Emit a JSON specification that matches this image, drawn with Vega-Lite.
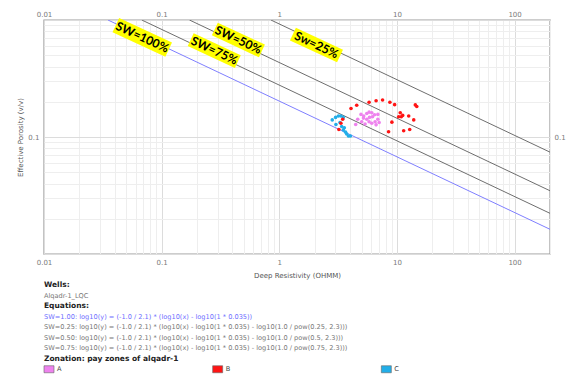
{
  "$schema": "https://vega.github.io/schema/vega-lite/v6.json",
  "background": "white",
  "padding": {"left": 16, "top": 9, "right": 0, "bottom": 0},
  "bounds": "flush",
  "spacing": 26,
  "config": {"view": {"stroke": null}, "font": "DejaVu Sans"},
  "datasets": {
    "curves": [
      {"sw": "1.00", "rd": 0.035, "phi": 1},
      {"sw": "1.00", "rd": 200, "phi": 0.01626},
      {"sw": "0.75", "rd": 0.0678, "phi": 1},
      {"sw": "0.75", "rd": 200, "phi": 0.02227},
      {"sw": "0.50", "rd": 0.1724, "phi": 1},
      {"sw": "0.50", "rd": 200, "phi": 0.03472},
      {"sw": "0.25", "rd": 0.849, "phi": 1},
      {"sw": "0.25", "rd": 200, "phi": 0.07421}
    ],
    "samples": [
      {"zone": "C", "rd": 2.82, "phi": 0.140},
      {"zone": "C", "rd": 3.01, "phi": 0.147},
      {"zone": "C", "rd": 3.18, "phi": 0.151},
      {"zone": "C", "rd": 3.34, "phi": 0.151},
      {"zone": "C", "rd": 3.50, "phi": 0.147},
      {"zone": "C", "rd": 3.03, "phi": 0.128},
      {"zone": "C", "rd": 3.28, "phi": 0.133},
      {"zone": "C", "rd": 3.39, "phi": 0.123},
      {"zone": "C", "rd": 3.57, "phi": 0.120},
      {"zone": "C", "rd": 3.50, "phi": 0.115},
      {"zone": "C", "rd": 3.66, "phi": 0.110},
      {"zone": "C", "rd": 3.74, "phi": 0.106},
      {"zone": "C", "rd": 3.87, "phi": 0.102},
      {"zone": "C", "rd": 4.02, "phi": 0.102},
      {"zone": "A", "rd": 4.95, "phi": 0.156},
      {"zone": "A", "rd": 5.22, "phi": 0.151},
      {"zone": "A", "rd": 5.54, "phi": 0.159},
      {"zone": "A", "rd": 5.80, "phi": 0.163},
      {"zone": "A", "rd": 6.11, "phi": 0.161},
      {"zone": "A", "rd": 6.45, "phi": 0.155},
      {"zone": "A", "rd": 6.88, "phi": 0.156},
      {"zone": "A", "rd": 4.64, "phi": 0.142},
      {"zone": "A", "rd": 5.19, "phi": 0.145},
      {"zone": "A", "rd": 5.54, "phi": 0.142},
      {"zone": "A", "rd": 5.84, "phi": 0.147},
      {"zone": "A", "rd": 6.20, "phi": 0.149},
      {"zone": "A", "rd": 6.88, "phi": 0.142},
      {"zone": "A", "rd": 7.06, "phi": 0.133},
      {"zone": "A", "rd": 6.65, "phi": 0.127},
      {"zone": "A", "rd": 6.11, "phi": 0.131},
      {"zone": "A", "rd": 5.36, "phi": 0.129},
      {"zone": "A", "rd": 4.46, "phi": 0.128},
      {"zone": "A", "rd": 5.80, "phi": 0.135},
      {"zone": "A", "rd": 6.52, "phi": 0.135},
      {"zone": "A", "rd": 5.02, "phi": 0.135},
      {"zone": "B", "rd": 4.07, "phi": 0.175},
      {"zone": "B", "rd": 4.55, "phi": 0.187},
      {"zone": "B", "rd": 5.80, "phi": 0.198},
      {"zone": "B", "rd": 6.65, "phi": 0.204},
      {"zone": "B", "rd": 7.55, "phi": 0.207},
      {"zone": "B", "rd": 8.71, "phi": 0.198},
      {"zone": "B", "rd": 9.56, "phi": 0.189},
      {"zone": "B", "rd": 14.33, "phi": 0.188},
      {"zone": "B", "rd": 14.74, "phi": 0.182},
      {"zone": "B", "rd": 10.67, "phi": 0.161},
      {"zone": "B", "rd": 10.34, "phi": 0.149},
      {"zone": "B", "rd": 10.88, "phi": 0.149},
      {"zone": "B", "rd": 11.19, "phi": 0.153},
      {"zone": "B", "rd": 12.59, "phi": 0.151},
      {"zone": "B", "rd": 13.89, "phi": 0.140},
      {"zone": "B", "rd": 9.06, "phi": 0.134},
      {"zone": "B", "rd": 8.49, "phi": 0.111},
      {"zone": "B", "rd": 11.41, "phi": 0.113},
      {"zone": "B", "rd": 12.84, "phi": 0.116},
      {"zone": "B", "rd": 3.46, "phi": 0.142},
      {"zone": "B", "rd": 3.34, "phi": 0.131},
      {"zone": "B", "rd": 3.21, "phi": 0.116}
    ],
    "tags": [
      {"label": "SW=100%", "rd": 0.0684, "phi": 0.711},
      {"label": "SW=75%", "rd": 0.280, "phi": 0.547},
      {"label": "SW=50%", "rd": 0.449, "phi": 0.675},
      {"label": "Sw=25%", "rd": 2.07, "phi": 0.611}
    ],
    "notes": [
      {"line": 0, "col": 0, "kind": "head", "text": "Wells:"},
      {"line": 1, "col": 0, "kind": "body", "text": "Alqadr-1_LQC"},
      {"line": 2, "col": 0, "kind": "head", "text": "Equations:"},
      {"line": 3, "col": 0, "kind": "eq1", "text": "SW=1.00: log10(y) = (-1.0 / 2.1) * (log10(x) - log10(1 * 0.035))"},
      {"line": 4, "col": 0, "kind": "eq", "text": "SW=0.25: log10(y) = (-1.0 / 2.1) * (log10(x) - log10(1 * 0.035) - log10(1.0 / pow(0.25, 2.3)))"},
      {"line": 5, "col": 0, "kind": "eq", "text": "SW=0.50: log10(y) = (-1.0 / 2.1) * (log10(x) - log10(1 * 0.035) - log10(1.0 / pow(0.5, 2.3)))"},
      {"line": 6, "col": 0, "kind": "eq", "text": "SW=0.75: log10(y) = (-1.0 / 2.1) * (log10(x) - log10(1 * 0.035) - log10(1.0 / pow(0.75, 2.3)))"},
      {"line": 7, "col": 0, "kind": "head", "text": "Zonation: pay zones of alqadr-1"}
    ],
    "zones": [
      {"line": 8, "col": 0, "zone": "A"},
      {"line": 8, "col": 1, "zone": "B"},
      {"line": 8, "col": 2, "zone": "C"}
    ]
  },
  "vconcat": [
    {
      "width": 506,
      "height": 234,
      "view": {"fill": "white", "stroke": "#9c9c9c", "strokeWidth": 1.4},
      "resolve": {"axis": {"x": "independent", "y": "independent"}},
      "layer": [
        {
          "data": {"name": "curves"},
          "mark": {"type": "line", "strokeWidth": 1, "clip": true},
          "encoding": {
            "x": {
              "field": "rd", "type": "quantitative",
              "scale": {"type": "log", "domain": [0.01, 200], "nice": false},
              "axis": {
                "orient": "bottom", "title": "Deep Resistivity (OHMM)", "tickCount": 20,
                "ticks": false, "domain": false, "labelOverlap": false, "labelFlush": false,
                "labelExpr": "abs(log(datum.value)/LN10 - round(log(datum.value)/LN10)) < 1e-6 ? format(datum.value, '~g') : ''",
                "labelFontSize": 7, "labelColor": "#7a7a7a", "labelPadding": 4,
                "titleFontSize": 7, "titleFontWeight": "normal", "titleColor": "#555555", "titlePadding": 6,
                "grid": true,
                "gridColor": {"condition": {"test": "abs(log(datum.value)/LN10 - round(log(datum.value)/LN10)) < 1e-6", "value": "#dcdcdc"}, "value": "#eeeeee"}
              }
            },
            "y": {
              "field": "phi", "type": "quantitative",
              "scale": {"type": "log", "domain": [0.01, 1], "nice": false},
              "axis": {
                "orient": "left", "title": "Effective Porosity (v/v)", "tickCount": 20,
                "ticks": false, "domain": false, "labelOverlap": false, "labelFlush": false,
                "labelExpr": "abs(datum.value - 0.1) < 1e-9 ? '0.1' : ''",
                "labelFontSize": 7, "labelColor": "#7a7a7a", "labelPadding": 5,
                "titleFontSize": 7, "titleFontWeight": "normal", "titleColor": "#555555", "titlePadding": 4,
                "grid": true,
                "gridColor": {"condition": {"test": "abs(log(datum.value)/LN10 - round(log(datum.value)/LN10)) < 1e-6", "value": "#dcdcdc"}, "value": "#eeeeee"}
              }
            },
            "stroke": {
              "field": "sw", "type": "nominal",
              "scale": {"domain": ["1.00", "0.25", "0.50", "0.75"], "range": ["#7f7fff", "#6e6e6e", "#6e6e6e", "#6e6e6e"]},
              "legend": null
            }
          }
        },
        {
          "data": {"name": "samples"},
          "mark": {"type": "circle", "size": 13, "opacity": 1},
          "encoding": {
            "x": {
              "field": "rd", "type": "quantitative",
              "axis": {
                "orient": "top", "title": null, "tickCount": 20, "ticks": false, "domain": false, "grid": false,
                "labelOverlap": false, "labelFlush": false,
                "labelExpr": "abs(log(datum.value)/LN10 - round(log(datum.value)/LN10)) < 1e-6 ? format(datum.value, '~g') : ''",
                "labelFontSize": 7, "labelColor": "#7a7a7a", "labelPadding": 3
              }
            },
            "y": {
              "field": "phi", "type": "quantitative",
              "axis": {
                "orient": "right", "title": null, "tickCount": 20, "ticks": false, "domain": false, "grid": false,
                "labelOverlap": false, "labelFlush": false,
                "labelExpr": "abs(datum.value - 0.1) < 1e-9 ? '0.1' : ''",
                "labelFontSize": 7, "labelColor": "#7a7a7a", "labelPadding": 4
              }
            },
            "color": {
              "field": "zone", "type": "nominal",
              "scale": {"domain": ["A", "B", "C"], "range": ["#ee82ee", "#ff1414", "#22aee8"]},
              "legend": null
            }
          }
        },
        {
          "data": {"name": "tags"},
          "mark": {"type": "point", "shape": "M-1,-0.27H1V0.27H-1Z", "filled": true, "fill": "#ffff00", "opacity": 1, "angle": 25},
          "encoding": {
            "x": {"field": "rd", "type": "quantitative", "axis": null},
            "y": {"field": "phi", "type": "quantitative", "axis": null},
            "size": {"condition": {"test": "datum.label === 'SW=100%'", "value": 3400}, "value": 2700}
          }
        },
        {
          "data": {"name": "tags"},
          "mark": {"type": "text", "font": "Lato", "fontWeight": "bold", "fontSize": 12, "color": "black", "angle": 25, "align": "center", "baseline": "middle"},
          "encoding": {
            "x": {"field": "rd", "type": "quantitative", "axis": null},
            "y": {"field": "phi", "type": "quantitative", "axis": null},
            "text": {"field": "label"}
          }
        }
      ]
    },
    {
      "width": 506,
      "height": 94.5,
      "encoding": {
        "x": {"field": "col", "type": "quantitative", "scale": {"domain": [0, 3], "nice": false, "zero": false}, "axis": null},
        "y": {"field": "line", "type": "quantitative", "scale": {"domain": [-0.5, 8.5], "reverse": true, "nice": false, "zero": false}, "axis": null}
      },
      "layer": [
        {
          "data": {"name": "notes"},
          "transform": [{"filter": "datum.kind === 'head'"}],
          "mark": {"type": "text", "align": "left", "baseline": "middle", "fontSize": 7.5, "fontWeight": "bold", "color": "#222222"},
          "encoding": {"text": {"field": "text"}}
        },
        {
          "data": {"name": "notes"},
          "transform": [{"filter": "datum.kind === 'body' || datum.kind === 'eq'"}],
          "mark": {"type": "text", "align": "left", "baseline": "middle", "fontSize": 6.6, "color": "#777777"},
          "encoding": {"text": {"field": "text"}}
        },
        {
          "data": {"name": "notes"},
          "transform": [{"filter": "datum.kind === 'eq1'"}],
          "mark": {"type": "text", "align": "left", "baseline": "middle", "fontSize": 6.6, "color": "#6e6eff"},
          "encoding": {"text": {"field": "text"}}
        },
        {
          "data": {"name": "zones"},
          "mark": {"type": "point", "shape": "M-1,-0.7H1V0.7H-1Z", "filled": true, "size": 100, "opacity": 1, "stroke": "#666666", "strokeWidth": 0.6},
          "encoding": {
            "xOffset": {"value": 5},
            "color": {"field": "zone", "type": "nominal", "scale": {"domain": ["A", "B", "C"], "range": ["#ee82ee", "#ff1414", "#22aee8"]}, "legend": null}
          }
        },
        {
          "data": {"name": "zones"},
          "mark": {"type": "text", "align": "left", "baseline": "middle", "fontSize": 6.6, "color": "#444444", "dx": 13},
          "encoding": {"text": {"field": "zone"}}
        }
      ]
    }
  ]
}
